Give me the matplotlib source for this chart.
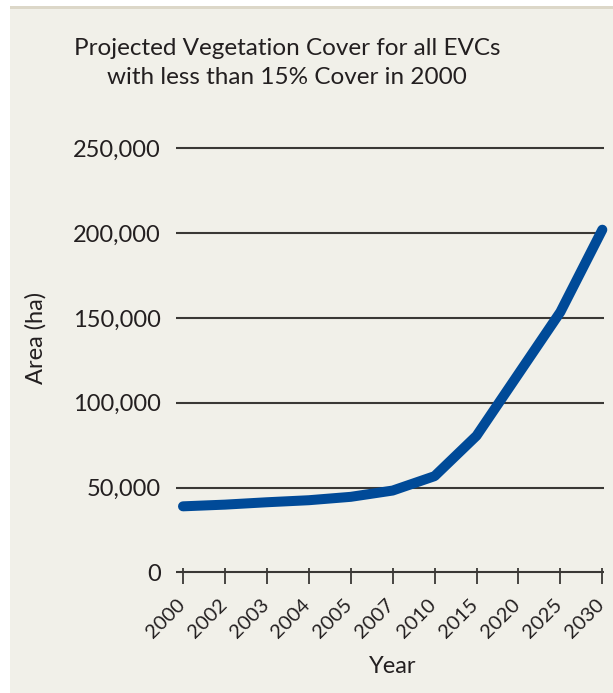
import matplotlib
matplotlib.use("Agg")
import matplotlib.pyplot as plt
from matplotlib.patches import Rectangle
from matplotlib.transforms import ScaledTranslation

plt.rcParams['font.family'] = ['Lato', 'DejaVu Sans']

# Data
years = ['2000', '2002', '2003', '2004', '2005', '2007', '2010', '2015', '2020', '2025', '2030']
area = [38900, 39900, 41300, 42500, 44500, 48200, 56700, 80500, 117000, 153500, 202000]
y_ticks = [0, 50000, 100000, 150000, 200000, 250000]
y_tick_labels = ['0', '50,000', '100,000', '150,000', '200,000', '250,000']

W, H = 613, 693
fig = plt.figure(figsize=(W / 100, H / 100), dpi=100)
fig.patch.set_facecolor('white')

bg = '#f1f0e9'
fig.patches.append(Rectangle((10 / W, 0), 1 - 10 / W, 1 - 6 / H, transform=fig.transFigure,
                             facecolor=bg, edgecolor='none', zorder=-10))
fig.patches.append(Rectangle((10 / W, 1 - 9 / H), 1 - 10 / W, 3 / H, transform=fig.transFigure,
                             facecolor='#dcd7c8', edgecolor='none', zorder=-9))

ax = fig.add_axes([183 / W, 1 - 575.7 / H, (604 - 183) / W, (575.7 - 144.9) / H])
ax.set_facecolor('none')

txt = '#231f20'
grid_c = '#3a3835'
x = list(range(len(years)))
ax.plot(x, area, color='#004a98', lw=7.2, solid_capstyle='round', solid_joinstyle='round',
        clip_on=False, zorder=5)

ax.set_xlim(0, 10.04)
ax.set_ylim(-2000, 252000)
ax.set_yticks(y_ticks)
ax.set_yticklabels(y_tick_labels)
ax.set_xticks(x)
ax.set_xticklabels(years)

for s in ax.spines.values():
    s.set_visible(False)

ax.yaxis.grid(True, color=grid_c, lw=1.5)
ax.set_axisbelow(True)
ax.tick_params(axis='y', length=5, width=1.5, color=grid_c, direction='out', pad=10.8,
               labelsize=17, labelcolor=txt)
ax.tick_params(axis='x', length=12, width=1.3, color=grid_c, direction='inout', pad=8.7,
               labelsize=14.5, labelcolor=txt)

off = ScaledTranslation(-7 / 100, 0, fig.dpi_scale_trans)
for lab in ax.get_xticklabels():
    lab.set_rotation(45)
    lab.set_ha('right')
    lab.set_va('top')
    lab.set_rotation_mode('anchor')
    lab.set_transform(lab.get_transform() + off)

fig.text(393 / W, 1 - 673 / H, 'Year', ha='center', va='baseline', fontsize=17, color=txt)
fig.text(36 / W, 1 - 338 / H, 'Area (ha)', ha='center', va='center', rotation=90,
         fontsize=17, color=txt)
fig.text(287 / W, 1 - 84 / H, 'Projected Vegetation Cover for all EVCs\nwith less than 15% Cover in 2000',
         ha='center', va='baseline', fontsize=17.5, color=txt, linespacing=1.45)

fig.savefig('out.png', dpi=100, facecolor=fig.get_facecolor())
